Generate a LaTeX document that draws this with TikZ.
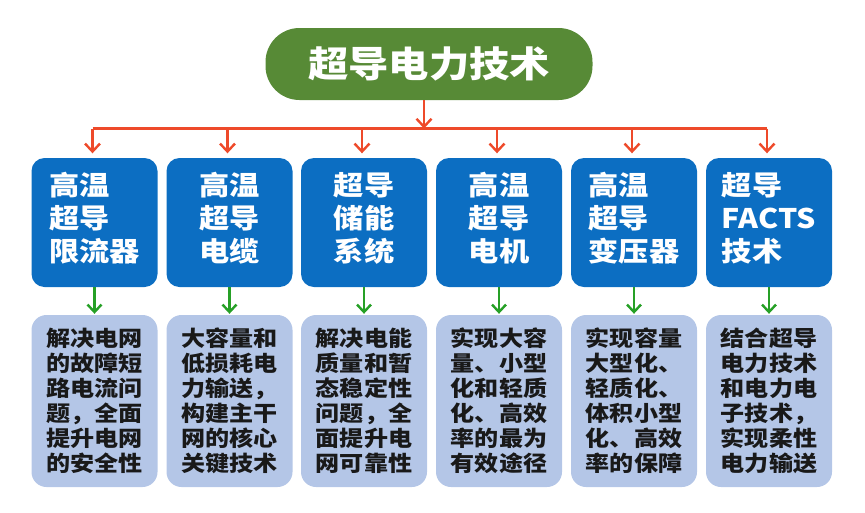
\documentclass[tikz,border=0pt]{standalone}
\usepackage{fontspec}
\newfontfamily\cjk{Noto Sans CJK SC}[FakeStretch=1.12]
\usetikzlibrary{arrows.meta}
\definecolor{topgreen}{HTML}{578A36}
\definecolor{boxblue}{HTML}{0C6EC2}
\definecolor{lightbox}{HTML}{B4C6E7}
\definecolor{arrred}{HTML}{EE4A2A}
\definecolor{arrgreen}{HTML}{26A026}
\tikzset{
  topnode/.style={fill=topgreen, rounded corners=34pt, minimum width=327pt, minimum height=72pt, inner sep=0pt,
    text=white, font=\cjk\bfseries\fontsize{36}{40}\selectfont},
  ubox/.style={fill=boxblue, rounded corners=13pt, minimum width=126pt, minimum height=129pt, inner sep=0pt},
  utext/.style={text=white, align=left, inner sep=0pt, font=\cjk\bfseries\fontsize{27}{33}\selectfont},
  lbox/.style={fill=lightbox, rounded corners=15pt, minimum width=126pt, minimum height=172pt, inner sep=0pt,
    text=black!90, align=left, font=\cjk\bfseries\fontsize{21.5}{25}\selectfont},
  redarr/.style={draw=arrred, line width=2.7pt, -{Straight Barb[length=8pt,width=15pt,line width=2.4pt]}},
  redline/.style={draw=arrred, line width=2.7pt},
  greenarr/.style={draw=arrgreen, line width=2.6pt, -{Straight Barb[length=7.5pt,width=14pt,line width=2.4pt]}, shorten >=1pt},
}
\begin{document}
\begin{tikzpicture}[x=1pt,y=-1pt]
\useasboundingbox (0,0) rectangle (865,512);
\node[topnode] (top) at (429,64) {超导电力技术};
\coordinate (hub) at (424,128.5);

\foreach \i/\x in {1/94.5,2/229.5,3/364,4/499,5/634,6/769}{
  \node[ubox] (u\i) at (\x,222.5) {};
}
\node[utext] (t1) at (u1.center) [yshift=4.5pt] {高温\\超导\\限流器};
\node[utext] (t2) at (u2.center) [yshift=4.5pt] {高温\\超导\\电缆};
\node[utext] (t3) at (u3.center) [yshift=4.5pt] {超导\\储能\\系统};
\node[utext] (t4) at (u4.center) [yshift=4.5pt] {高温\\超导\\电机};
\node[utext] (t5) at (u5.center) [yshift=4.5pt] {高温\\超导\\变压器};
\node[utext] (t6) at (u6.center) [yshift=4.5pt] {超导\\FACTS\\技术};

\node[lbox] (l1) at (94.5,401) {解决电网\\的故障短\\路电流问\\题，全面\\提升电网\\的安全性};
\node[lbox] (l2) at (229.5,401) {大容量和\\低损耗电\\力输送，\\构建主干\\网的核心\\关键技术};
\node[lbox] (l3) at (364,401) {解决电能\\质量和暂\\态稳定性\\问题，全\\面提升电\\网可靠性};
\node[lbox] (l4) at (499,401) {实现大容\\量、小型\\化和轻质\\化、高效\\率的最为\\有效途径};
\node[lbox] (l5) at (634,401) {实现容量\\大型化、\\轻质化、\\体积小型\\化、高效\\率的保障};
\node[lbox] (l6) at (769,401) {结合超导\\电力技术\\和电力电\\子技术，\\实现柔性\\电力输送};

\draw[redarr] (hub |- top.south) -- (hub);
\draw[redline] ([xshift=-2pt]u1.north |- hub) -- ([xshift=-2pt]u6.north |- hub);
\foreach \i in {1,...,6}{
  \draw[redarr, shorten >=4.5pt] ([xshift=-2pt]u\i.north |- hub) -- ([xshift=-2pt]u\i.north);
  \draw[greenarr] (u\i.south) -- (l\i.north);
}
\end{tikzpicture}
\end{document}
